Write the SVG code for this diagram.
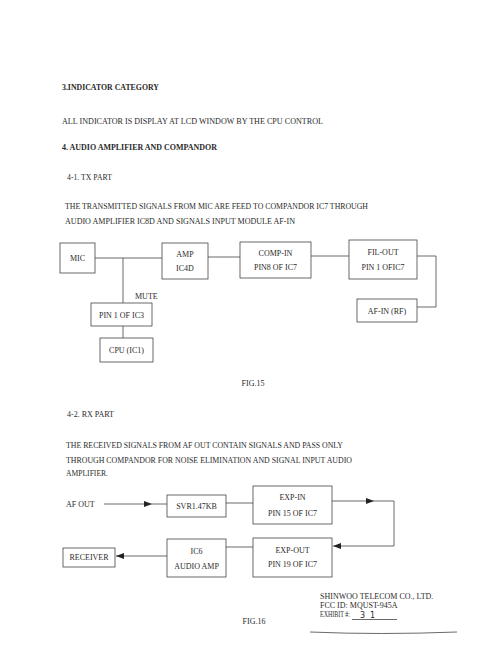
<svg xmlns="http://www.w3.org/2000/svg" width="488" height="650" viewBox="0 0 488 650">
<style>
.t{font-family:"Liberation Serif","DejaVu Serif","Times New Roman",serif;font-size:8px;fill:#2a2a2a}
.b{font-weight:bold}
.c{text-anchor:middle}
.box{fill:none;stroke:#444;stroke-width:0.8}
.ln{fill:none;stroke:#444;stroke-width:0.8}
</style>
<defs>
<marker id="ah" viewBox="0 0 8 6" refX="8" refY="3" markerWidth="8" markerHeight="6" markerUnits="userSpaceOnUse" orient="auto">
<path d="M0,0 L8,3 L0,6 z" fill="#222"/>
</marker>
</defs>
<rect width="488" height="650" fill="#fff"/>

<g id="text">
<text class="t b" x="62" y="90" textLength="97" lengthAdjust="spacingAndGlyphs">3.INDICATOR CATEGORY</text>
<text class="t" x="62" y="124" textLength="261" lengthAdjust="spacingAndGlyphs">ALL INDICATOR IS DISPLAY AT LCD WINDOW BY THE CPU CONTROL</text>
<text class="t b" x="62" y="150" textLength="155" lengthAdjust="spacingAndGlyphs">4. AUDIO AMPLIFIER AND COMPANDOR</text>
<text class="t" x="67" y="180" textLength="45" lengthAdjust="spacingAndGlyphs">4-1.  TX PART</text>
<text class="t" x="65" y="209" textLength="303" lengthAdjust="spacingAndGlyphs">THE TRANSMITTED SIGNALS FROM MIC ARE FEED TO COMPANDOR IC7 THROUGH</text>
<text class="t" x="65" y="224" textLength="230" lengthAdjust="spacingAndGlyphs">AUDIO AMPLIFIER IC8D AND SIGNALS INPUT MODULE AF-IN</text>
<text class="t c" x="253" y="386">FIG.15</text>
<text class="t" x="67" y="417" textLength="47" lengthAdjust="spacingAndGlyphs">4-2. RX PART</text>
<text class="t" x="66" y="448" textLength="277" lengthAdjust="spacingAndGlyphs">THE RECEIVED SIGNALS FROM AF OUT CONTAIN SIGNALS AND PASS ONLY</text>
<text class="t" x="66" y="463" textLength="286" lengthAdjust="spacingAndGlyphs">THROUGH COMPANDOR FOR NOISE ELIMINATION AND SIGNAL INPUT AUDIO</text>
<text class="t" x="66" y="476" textLength="42" lengthAdjust="spacingAndGlyphs">AMPLIFIER.</text>
<text class="t c" x="254" y="624">FIG.16</text>
<text class="t" x="320" y="599">SHINWOO TELECOM CO., LTD.</text>
<text class="t" x="320" y="607.5">FCC ID: MQUST-945A</text>
<text class="t" x="320" y="617" textLength="30" lengthAdjust="spacingAndGlyphs">EXHIBIT #:</text>
<text class="t" x="360" y="617.5" style="font-family:'DejaVu Sans',sans-serif;font-size:8px" textLength="15" lengthAdjust="spacing">31</text>
<path class="ln" d="M352,619.5 L397,619.5"/>
<path class="ln" d="M310,632 Q380,635 457,632" stroke="#777"/>
</g>

<g id="connectors">
<path class="ln" d="M95,258 L162,258"/>
<path class="ln" d="M123,258 L123,303"/>
<path class="ln" d="M123,326 L123,338"/>
<path class="ln" d="M208,257 L240,257"/>
<path class="ln" d="M311,256 L349,256"/>
<path class="ln" d="M417,256 L436,256 L436,307 L417,307"/>
<path class="ln" d="M104,504 L152,504" marker-end="url(#ah)"/>
<path class="ln" d="M152,504 L167,504" stroke="#999"/>
<path class="ln" d="M226,503 L253,503"/>
<path class="ln" d="M332,501 L374,501" marker-end="url(#ah)"/>
<path class="ln" d="M374,501 L394,501 L394,546 L333,546" marker-end="url(#ah)"/>
<path class="ln" d="M226,547 L253,547" stroke="#999"/>
<path class="ln" d="M167,556 L116,556" marker-end="url(#ah)"/>
</g>

<g id="mic"><rect class="box" x="60" y="243" width="35" height="30"/><text class="t c" x="77.5" y="261">MIC</text></g>
<g id="amp"><rect class="box" x="162" y="243" width="46" height="36"/><text class="t c" x="185" y="257">AMP</text><text class="t c" x="185" y="271">IC4D</text></g>
<g id="comp-in"><rect class="box" x="240" y="242" width="71" height="36"/><text class="t c" x="275.5" y="256">COMP-IN</text><text class="t c" x="275.5" y="270">PIN8 OF IC7</text></g>
<g id="fil-out"><rect class="box" x="349" y="240" width="68" height="39"/><text class="t c" x="383" y="255">FIL-OUT</text><text class="t c" x="383" y="270">PIN 1 OFIC7</text></g>
<g id="af-in"><rect class="box" x="357" y="299" width="60" height="23"/><text class="t c" x="387" y="314">AF-IN (RF)</text></g>
<g id="pin1-ic3"><rect class="box" x="91" y="303" width="61" height="23"/><text class="t c" x="121.5" y="318">PIN 1 OF IC3</text><text class="t" x="135" y="299">MUTE</text></g>
<g id="cpu"><rect class="box" x="100" y="338" width="53" height="24"/><text class="t c" x="126.5" y="353">CPU (IC1)</text></g>

<g id="af-out"><text class="t" x="66" y="507">AF OUT</text></g>
<g id="svr"><rect class="box" x="167" y="495" width="59" height="22"/><text class="t c" x="196.5" y="509">SVR1.47KB</text></g>
<g id="exp-in"><rect class="box" x="253" y="486" width="79" height="38"/><text class="t c" x="292.5" y="500">EXP-IN</text><text class="t c" x="292.5" y="516">PIN 15 OF IC7</text></g>
<g id="exp-out"><rect class="box" x="253" y="538" width="79" height="39"/><text class="t c" x="292.5" y="553">EXP-OUT</text><text class="t c" x="292.5" y="567">PIN 19 OF IC7</text></g>
<g id="ic6"><rect class="box" x="167" y="539" width="59" height="38"/><text class="t c" x="196.5" y="554">IC6</text><text class="t c" x="196.5" y="569">AUDIO AMP</text></g>
<g id="receiver"><rect class="box" x="63" y="548" width="52" height="19"/><text class="t c" x="89" y="560">RECEIVER</text></g>
</svg>
